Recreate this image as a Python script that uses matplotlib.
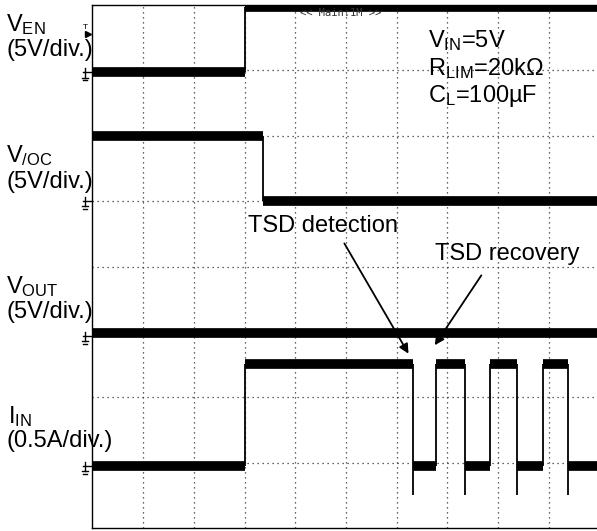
import matplotlib
matplotlib.use('Agg')
import matplotlib.pyplot as plt

plt.rcParams['font.family'] = ['Liberation Sans', 'DejaVu Sans']
plt.rcParams['mathtext.default'] = 'regular'

W, H = 597, 531

# --- scope readings (time in divisions, 10 div across) ---
ven_edges = [0, 3.0, 10]
ven_volts = [0, 5]
voc_edges = [0, 3.36, 10]
voc_volts = [5, 0]
vout_edges = [0, 10]
vout_volts = [0.2]
iin_edges = [0, 3.0, 6.33, 6.77, 7.35, 7.85, 8.37, 8.89, 9.37, 10]
iin_amps = [0, 0.78, 0, 0.78, 0, 0.78, 0, 0.78, 0]
iin_dip = -0.22          # undershoot right after each TSD trip

# channel ground positions (div from bottom) and scales (units/div)
ground = {'VEN': 6.97, 'VOC': 5.0, 'VOUT': 2.94, 'IIN': 0.95}
scale = {'VEN': 5.0, 'VOC': 5.0, 'VOUT': 5.0, 'IIN': 0.5}


def fx(x):
    return x / W


def fy(y):
    return 1 - y / H


fig = plt.figure(figsize=(W / 100, H / 100), dpi=100)
# scope screen: left 92.5px, top 5px, bottom 528px, right edge cropped off
ax = fig.add_axes([fx(92.5), fy(528), 507 / W, 523 / H])
ax.set_xlim(0, 10)
ax.set_ylim(0, 8)
ax.set_xticks(range(1, 10))
ax.set_yticks(range(1, 8))
ax.tick_params(length=0, labelleft=False, labelbottom=False)
ax.grid(color='#333333', ls=(0, (1, 3)), lw=0.9)
ax.set_axisbelow(True)
for s in ax.spines.values():
    s.set_linewidth(1.0)
    s.set_color('black')


def draw_trace(name, edges, vals, dip=None):
    g, sc = ground[name], scale[name]
    lv = [g + v / sc for v in vals]
    ax.hlines(lv, edges[:-1], edges[1:], colors='black', lw=7, capstyle='butt')
    for i in range(1, len(edges) - 1):
        lo, hi = lv[i - 1], lv[i]
        if dip is not None and hi < lo:
            hi = g + dip / sc
        ax.vlines(edges[i], min(lo, hi), max(lo, hi), colors='black', lw=1.3)


draw_trace('VEN', ven_edges, ven_volts)
draw_trace('VOC', voc_edges, voc_volts)
draw_trace('VOUT', vout_edges, vout_volts)
draw_trace('IIN', iin_edges, iin_amps, dip=iin_dip)

# ground markers on the left edge
for g in ground.values():
    ax.plot([-0.19, 0], [g, g], color='black', lw=1, clip_on=False)
    ax.plot([-0.14, -0.14], [g + 0.06, g - 0.08], color='black', lw=1, clip_on=False)
    ax.plot([-0.2, -0.08], [g - 0.08, g - 0.08], color='black', lw=1, clip_on=False)
    ax.plot([-0.18, -0.1], [g - 0.12, g - 0.12], color='black', lw=1, clip_on=False)

# trigger marker
ax.plot([-0.09], [7.56], marker='>', color='black', ms=4, clip_on=False)
ax.text(-0.2, 7.6, 'T', fontsize=6, ha='left', va='bottom', clip_on=False)

ax.text(4.1, 7.87, '<< Main:1M >>', fontsize=7.5, family='DejaVu Sans Mono',
        color='#333333', va='center', ha='left')

# channel labels
fs = 17
labels = [
    (6, 31, r'V$_{EN}$'), (7, 56, '(5V/div.)'),
    (6, 162, r'V$_{/OC}$'), (7, 188, '(5V/div.)'),
    (6, 293, r'V$_{OUT}$'), (7, 318, '(5V/div.)'),
    (8, 423, r'I$_{IN}$'), (7, 447, '(0.5A/div.)'),
    (428, 47, r'V$_{IN}$=5V'), (428, 75, r'R$_{LIM}$=20k$\Omega$'),
    (428, 102, r'C$_{L}$=100µF'),
    (248, 232, 'TSD detection'), (435, 260, 'TSD recovery'),
]
for x, y, s in labels:
    fig.text(fx(x), fy(y), s, fontsize=fs, ha='left', va='baseline')

# arrows to the IIN transitions
arrow = dict(arrowstyle='-|>', color='black', lw=1.3, mutation_scale=14)
ax.annotate('', xy=(6.26, 2.63), xytext=(4.94, 4.39), arrowprops=arrow)
ax.annotate('', xy=(6.72, 2.76), xytext=(7.70, 3.90), arrowprops=arrow)

fig.savefig('out.png', dpi=100)
